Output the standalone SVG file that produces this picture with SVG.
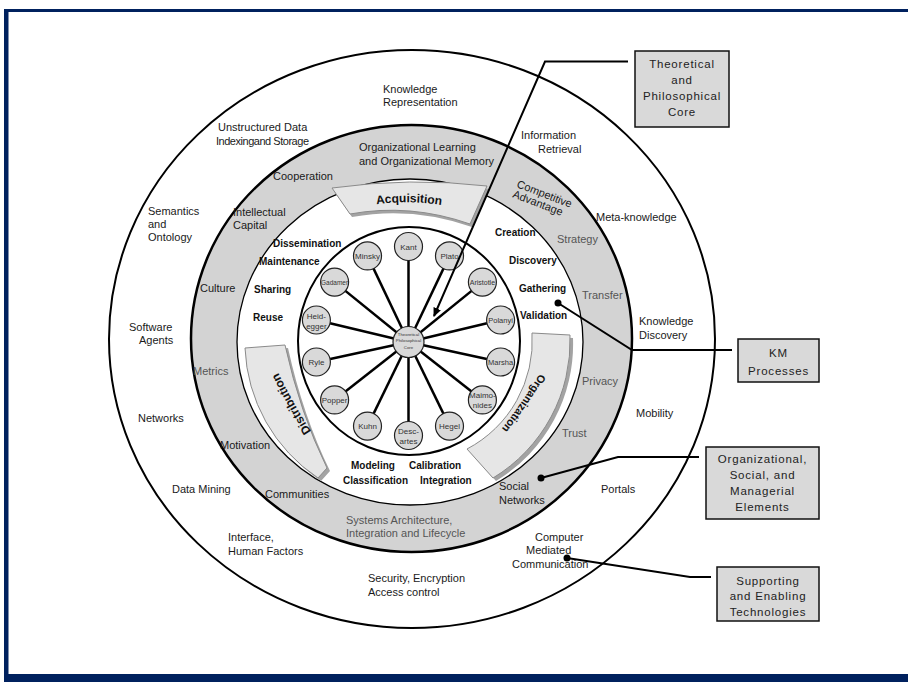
<svg xmlns="http://www.w3.org/2000/svg" width="908" height="682" viewBox="0 0 908 682">
<defs>
<style>
.t{font-family:"Liberation Sans",Arial,sans-serif;font-size:11px;fill:#1a1a1a}
.g{fill:#555}
.b{font-family:"Liberation Sans",Arial,sans-serif;font-size:10px;font-weight:bold;fill:#111}
.p{font-family:"Liberation Sans",Arial,sans-serif;font-size:8px;fill:#333;text-anchor:middle}
.bx{font-family:"Liberation Sans",Arial,sans-serif;font-size:11.5px;letter-spacing:0.8px;fill:#222;text-anchor:middle}
.sec{fill:#e6e6e6;stroke:#8a8a8a;stroke-width:1}
.sh{fill:#a3a3a3}
.st{font-family:"Liberation Sans",Arial,sans-serif;font-size:12px;font-weight:bold;fill:#111}
.phil{fill:#d9d9d9;stroke:#222;stroke-width:1.2}
.spoke{stroke:#000;stroke-width:2.5}
.con{fill:none;stroke:#000;stroke-width:2}
.box{fill:#d9d9d9;stroke:#111;stroke-width:1.5}
</style>
<marker id="arr" markerWidth="10" markerHeight="10" refX="8" refY="5" orient="auto" markerUnits="userSpaceOnUse">
<path d="M0,1 L9,5 L0,9 Z" fill="#000"/>
</marker>
<path id="pa" d="M348,210 Q408,194 470,211"/>
<path id="pd" d="M325,452 Q290,402 268,350"/>
<path id="po" d="M550,355 Q524,404 488,445"/>
</defs>

<!-- frame -->
<rect x="4" y="9" width="910" height="673" fill="#00215e"/>
<rect x="8.5" y="12" width="905" height="662" fill="#fff"/>

<!-- rings -->
<g id="rings">
<ellipse cx="412" cy="339" rx="303" ry="289" fill="#fff" stroke="#000" stroke-width="2"/>
<ellipse cx="411.5" cy="338.5" rx="220.5" ry="213.5" fill="#d3d3d3" stroke="#000" stroke-width="2.5"/>
<ellipse cx="410" cy="342" rx="173" ry="163" fill="#fff" stroke="#000" stroke-width="1.3"/>
</g>

<!-- outer ring labels -->
<g id="outer-labels" class="t">
<text x="383" y="93">Knowledge</text>
<text x="383" y="106">Representation</text>
<text x="218" y="131">Unstructured Data</text>
<text x="216" y="145" textLength="93" lengthAdjust="spacing">Indexingand Storage</text>
<text x="521" y="139">Information</text>
<text x="538" y="153">Retrieval</text>
<text x="596" y="221">Meta-knowledge</text>
<text x="148" y="215">Semantics</text>
<text x="148" y="228">and</text>
<text x="148" y="241">Ontology</text>
<text x="129" y="331">Software</text>
<text x="139" y="344">Agents</text>
<text x="138" y="422">Networks</text>
<text x="172" y="493">Data Mining</text>
<text x="228" y="541">Interface,</text>
<text x="228" y="555">Human Factors</text>
<text x="368" y="582">Security, Encryption</text>
<text x="368" y="596">Access control</text>
<text x="535" y="541">Computer</text>
<text x="526" y="554">Mediated</text>
<text x="512" y="568">Communication</text>
<text x="601" y="493">Portals</text>
<text x="636" y="417">Mobility</text>
<text x="639" y="325">Knowledge</text>
<text x="639" y="339">Discovery</text>
</g>

<!-- gray ring labels -->
<g id="ring-labels" class="t">
<text x="359" y="151">Organizational Learning</text>
<text x="359" y="165">and Organizational Memory</text>
<text x="273" y="180">Cooperation</text>
<text x="516" y="187" transform="rotate(21 516 187)">Competitive</text>
<text x="512" y="197" transform="rotate(21 512 197)">Advantage</text>
<text class="t g" x="557" y="243">Strategy</text>
<text class="t g" x="582" y="299">Transfer</text>
<text class="t g" x="582" y="385">Privacy</text>
<text class="t g" x="562" y="437">Trust</text>
<text x="499" y="490">Social</text>
<text x="499" y="504">Networks</text>
<text class="t g" x="346" y="524">Systems Architecture,</text>
<text class="t g" x="346" y="537">Integration and Lifecycle</text>
<text x="265" y="498">Communities</text>
<text x="220" y="449">Motivation</text>
<text class="t g" x="193" y="375">Metrics</text>
<text x="200" y="292">Culture</text>
<text x="233" y="216">Intellectual</text>
<text x="233" y="229">Capital</text>
</g>

<!-- process labels -->
<g id="process-labels" class="b">
<text x="273" y="247">Dissemination</text>
<text x="259" y="265">Maintenance</text>
<text x="254" y="293">Sharing</text>
<text x="253" y="321">Reuse</text>
<text x="495" y="236">Creation</text>
<text x="509" y="264">Discovery</text>
<text x="519" y="292">Gathering</text>
<text x="520" y="319">Validation</text>
<text x="351" y="469">Modeling</text>
<text x="343" y="484">Classification</text>
<text x="409" y="469">Calibration</text>
<text x="420" y="484">Integration</text>
</g>

<!-- process sectors -->
<g id="acquisition">
<path class="sh" transform="translate(2,3)" d="M332,188 Q410,177 487,186 L470,224 Q410,203 350,214 Z"/>
<path class="sec" d="M332,188 Q410,177 487,186 L470,224 Q410,203 350,214 Z"/>
<text class="st"><textPath href="#pa" startOffset="50%" text-anchor="middle">Acquisition</textPath></text>
</g>
<g id="distribution">
<path class="sh" transform="translate(3,3)" d="M245,348 L285,345 Q300,413 327,468 L318,478 A164 164 0 0 1 245,348 Z"/>
<path class="sec" d="M245,348 L285,345 Q300,413 327,468 L318,478 A164 164 0 0 1 245,348 Z"/>
<text class="st"><textPath href="#pd" startOffset="50%" text-anchor="middle">Distribution</textPath></text>
</g>
<g id="organization">
<path class="sh" transform="translate(3,3)" d="M532,333 L570,335 A160 160 0 0 1 493,478 L467,449 A122 122 0 0 0 532,333 Z"/>
<path class="sec" d="M532,333 L570,335 A160 160 0 0 1 493,478 L467,449 A122 122 0 0 0 532,333 Z"/>
<text class="st" style="font-size:11px"><textPath href="#po" startOffset="50%" text-anchor="middle">Organization</textPath></text>
</g>

<!-- philosophical core -->
<g id="core">
<ellipse cx="409" cy="341" rx="111" ry="114" fill="#fff" stroke="#000" stroke-width="2"/>
<g id="spokes">
<line class="spoke" x1="408.5" y1="342" x2="408.5" y2="246.5"/>
<line class="spoke" x1="408.5" y1="342" x2="449.5" y2="255.9"/>
<line class="spoke" x1="408.5" y1="342" x2="482.4" y2="282.1"/>
<line class="spoke" x1="408.5" y1="342" x2="500.6" y2="320"/>
<line class="spoke" x1="408.5" y1="342" x2="500.6" y2="362"/>
<line class="spoke" x1="408.5" y1="342" x2="482.4" y2="399.9"/>
<line class="spoke" x1="408.5" y1="342" x2="449.5" y2="426.1"/>
<line class="spoke" x1="408.5" y1="342" x2="408.5" y2="435.5"/>
<line class="spoke" x1="408.5" y1="342" x2="367.5" y2="426.1"/>
<line class="spoke" x1="408.5" y1="342" x2="334.6" y2="399.9"/>
<line class="spoke" x1="408.5" y1="342" x2="316.4" y2="362"/>
<line class="spoke" x1="408.5" y1="342" x2="316.4" y2="320"/>
<line class="spoke" x1="408.5" y1="342" x2="334.6" y2="282.1"/>
<line class="spoke" x1="408.5" y1="342" x2="367.5" y2="255.9"/>
</g>
<g id="n-kant"><circle class="phil" cx="408.5" cy="246.5" r="14"/><text class="p" x="408.5" y="249.5">Kant</text></g>
<g id="n-plato"><circle class="phil" cx="449.5" cy="255.9" r="14"/><text class="p" x="449.5" y="258.9">Plato</text></g>
<g id="n-aristotle"><circle class="phil" cx="482.4" cy="282.1" r="14"/><text class="p" x="482.4" y="285.1" style="font-size:7px">Aristotle</text></g>
<g id="n-polanyi"><circle class="phil" cx="500.6" cy="320" r="14"/><text class="p" x="500.6" y="323" style="font-size:7.5px">Polanyi</text></g>
<g id="n-marshall"><circle class="phil" cx="500.6" cy="362" r="14"/><text class="p" x="500.6" y="365" style="font-size:7.5px">Marsha</text></g>
<g id="n-maimonides"><circle class="phil" cx="482.4" cy="399.9" r="14"/><text class="p" x="482.4" y="398.4">Maimo-</text><text class="p" x="482.4" y="408.4">nides</text></g>
<g id="n-hegel"><circle class="phil" cx="449.5" cy="426.1" r="14"/><text class="p" x="449.5" y="429.1">Hegel</text></g>
<g id="n-descartes"><circle class="phil" cx="408.5" cy="435.5" r="14"/><text class="p" x="408.5" y="434">Desc-</text><text class="p" x="408.5" y="444">artes</text></g>
<g id="n-kuhn"><circle class="phil" cx="367.5" cy="426.1" r="14"/><text class="p" x="367.5" y="429.1">Kuhn</text></g>
<g id="n-popper"><circle class="phil" cx="334.6" cy="399.9" r="14"/><text class="p" x="334.6" y="402.9">Popper</text></g>
<g id="n-ryle"><circle class="phil" cx="316.4" cy="362" r="14"/><text class="p" x="316.4" y="365">Ryle</text></g>
<g id="n-heidegger"><circle class="phil" cx="316.4" cy="320" r="14"/><text class="p" x="316.4" y="318.5">Heid-</text><text class="p" x="316.4" y="328.5">egger</text></g>
<g id="n-gadamer"><circle class="phil" cx="334.6" cy="282.1" r="14"/><text class="p" x="334.6" y="284.6" style="font-size:6.5px">Gadamer</text></g>
<g id="n-minsky"><circle class="phil" cx="367.5" cy="255.9" r="14"/><text class="p" x="367.5" y="258.9">Minsky</text></g>
<g id="n-center"><circle class="phil" cx="408.5" cy="342" r="15.5"/>
<text class="p" x="408.5" y="335.5" style="font-size:4.3px">Theoretical</text>
<text class="p" x="408.5" y="342" style="font-size:4.3px">Philosophical</text>
<text class="p" x="408.5" y="348.5" style="font-size:4.3px">Core</text></g>
</g>

<!-- connectors -->
<g id="connectors">
<polyline class="con" points="628,61.5 545,61.5 434,316" marker-end="url(#arr)"/>
<polyline class="con" points="732,350 632,350 558,303"/>
<circle cx="558" cy="303" r="3.5" fill="#000"/>
<polyline class="con" points="699,457 618,457 541,478"/>
<circle cx="541" cy="478" r="3.5" fill="#000"/>
<polyline class="con" points="711,577 690,577 567,558"/>
<circle cx="567" cy="558" r="3.5" fill="#000"/>
</g>

<!-- legend boxes -->
<g id="box-core">
<rect class="box" x="635" y="51" width="94" height="76"/>
<text class="bx" x="682" y="68">Theoretical</text>
<text class="bx" x="682" y="84">and</text>
<text class="bx" x="682" y="100">Philosophical</text>
<text class="bx" x="682" y="116">Core</text>
</g>
<g id="box-km">
<rect class="box" x="738" y="339" width="81" height="43"/>
<text class="bx" x="778.5" y="357">KM</text>
<text class="bx" x="778.5" y="375">Processes</text>
</g>
<g id="box-org">
<rect class="box" x="706" y="447" width="113" height="72"/>
<text class="bx" x="762.5" y="463">Organizational,</text>
<text class="bx" x="762.5" y="479">Social, and</text>
<text class="bx" x="762.5" y="495">Managerial</text>
<text class="bx" x="762.5" y="511">Elements</text>
</g>
<g id="box-tech">
<rect class="box" x="717" y="567" width="102" height="54"/>
<text class="bx" x="768" y="585">Supporting</text>
<text class="bx" x="768" y="600">and Enabling</text>
<text class="bx" x="768" y="616">Technologies</text>
</g>
</svg>
